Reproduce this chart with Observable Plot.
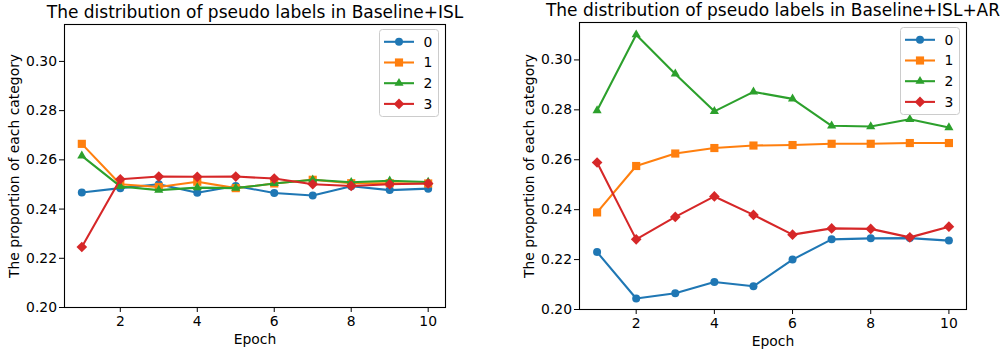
<!DOCTYPE html>
<html><head><meta charset="utf-8">
<script src="https://cdn.jsdelivr.net/npm/d3@7"></script>
<script src="https://cdn.jsdelivr.net/npm/@observablehq/plot@0.6"></script>
<style>
body{margin:0;background:#fff;font-family:"DejaVu Sans",sans-serif;}
#wrap{position:relative;width:1000px;height:349px;overflow:hidden;background:#fff;}
.panel{position:absolute;top:0;width:500px;height:349px;}
</style></head><body>
<div id="wrap"><div id="p0" class="panel" style="left:0"></div><div id="p1" class="panel" style="left:500px"></div></div>
<script>
// ---- data ----
const epochs = [1, 2, 3, 4, 5, 6, 7, 8, 9, 10];
const categories = ["0", "1", "2", "3"];
const xTicks = [2, 4, 6, 8, 10];
const yTicks = [0.20, 0.22, 0.24, 0.26, 0.28, 0.30];

const titles = ["The distribution of pseudo labels in Baseline+ISL", "The distribution of pseudo labels in Baseline+ISL+AR"];
const xLabel = "Epoch";
const yLabel = "The proportion of each category";

// Baseline+ISL
const isl0 = [0.2467, 0.2485, 0.2501, 0.2466, 0.2494, 0.2465, 0.2455, 0.2493, 0.2477, 0.2483];
const isl1 = [0.2665, 0.2501, 0.2490, 0.2511, 0.2485, 0.2504, 0.2519, 0.2505, 0.2505, 0.2504];
const isl2 = [0.2616, 0.2492, 0.2477, 0.2487, 0.2485, 0.2504, 0.2519, 0.2509, 0.2515, 0.2510];
const isl3 = [0.2246, 0.2521, 0.2532, 0.2531, 0.2532, 0.2524, 0.2501, 0.2494, 0.2501, 0.2504];

// Baseline+ISL+AR
const ar0 = [0.2230, 0.2044, 0.2065, 0.2110, 0.2093, 0.2200, 0.2281, 0.2285, 0.2286, 0.2276];
const ar1 = [0.2389, 0.2575, 0.2625, 0.2647, 0.2657, 0.2659, 0.2664, 0.2664, 0.2667, 0.2667];
const ar2 = [0.2797, 0.3101, 0.2944, 0.2794, 0.2872, 0.2844, 0.2736, 0.2733, 0.2762, 0.2729];
const ar3 = [0.2589, 0.2281, 0.2371, 0.2453, 0.2379, 0.2300, 0.2325, 0.2323, 0.2289, 0.2332];

// ---- styles ----
const colors = ["#1f77b4", "#ff7f0e", "#2ca02c", "#d62728"];
const symbols = ["circle", "square", "triangle", "diamond2"];
const d3symbols = [d3.symbolCircle, d3.symbolSquare, d3.symbolTriangle, d3.symbolDiamond2];
const radii = [4.0, 4.6, 3.4, 4.8];
const FONT = "DejaVu Sans";
const TICK_FS = 13.9, TITLE_FS = 17;

const panels = [
  {el: "p0", vals: [isl0, isl1, isl2, isl3], title: titles[0], mt: 24, mb: 42, ml: 64, mr: 55},
  {el: "p1", vals: [ar0, ar1, ar2, ar3], title: titles[1], mt: 22, mb: 40, ml: 79, mr: 34}
];

for (const p of panels) {
  const W = 500, H = 349;
  const seriesMarks = [];
  categories.forEach((c, i) => {
    const rows = epochs.map((e, j) => ({epoch: e, value: p.vals[i][j], cat: c}));
    seriesMarks.push(Plot.line(rows, {x: "epoch", y: "value", stroke: colors[i], strokeWidth: 2.08}));
    seriesMarks.push(Plot.dot(rows, {x: "epoch", y: "value", fill: colors[i], symbol: symbols[i], r: radii[i], stroke: "none"}));
  });
  const chart = Plot.plot({
    width: W, height: H,
    marginTop: p.mt, marginBottom: p.mb, marginLeft: p.ml, marginRight: p.mr,
    x: {domain: [0.55, 10.45]},
    y: {domain: [0.20, 0.315]},
    style: {fontFamily: FONT, fontSize: TICK_FS + "px", background: "transparent", overflow: "visible", color: "#000"},
    marks: [
      ...seriesMarks,
      Plot.frame({stroke: "#000", strokeWidth: 1.1}),
      Plot.axisX({ticks: xTicks, tickSize: 5, tickPadding: 4, label: null, tickFormat: d => String(d), fontSize: TICK_FS}),
      Plot.axisY({ticks: yTicks, tickSize: 5, tickPadding: 2.5, label: null, tickFormat: d3.format(".2f"), fontSize: TICK_FS}),
      Plot.text([p.title], {text: d => d, frameAnchor: "top", lineAnchor: "bottom", dy: -7, fontSize: TITLE_FS, fill: "#000"}),
      Plot.text([xLabel], {text: d => d, frameAnchor: "bottom", lineAnchor: "bottom", dy: 36.5, fontSize: TICK_FS, fill: "#000"}),
      Plot.text([yLabel], {text: d => d, frameAnchor: "left", textAnchor: "middle", rotate: -90, dx: -50, fontSize: TICK_FS, fill: "#000"})
    ]
  });
  const host = document.getElementById(p.el);
  host.append(chart);

  // legend overlay
  const fr = W - p.mr, ft = p.mt;
  const bw = 59, bh = 87;
  const bx = fr - 6.5 - bw, by = ft + 5.5;
  const svg = d3.create("svg").attr("width", W).attr("height", H)
    .style("position", "absolute").style("left", "0").style("top", "0").style("overflow", "visible")
    .attr("font-family", FONT).attr("font-size", TICK_FS);
  svg.append("rect").attr("x", bx).attr("y", by).attr("width", bw).attr("height", bh).attr("rx", 3)
    .attr("fill", "#fff").attr("fill-opacity", 0.8).attr("stroke", "#cccccc").attr("stroke-width", 1);
  categories.forEach((c, i) => {
    const cy = by + 12.3 + i * 20.7;
    svg.append("line").attr("x1", bx + 4.5).attr("x2", bx + 34.5).attr("y1", cy).attr("y2", cy)
      .attr("stroke", colors[i]).attr("stroke-width", 2.08);
    svg.append("path").attr("transform", `translate(${bx + 19.5},${cy})`)
      .attr("d", d3.symbol(d3symbols[i], Math.PI * radii[i] * radii[i])()).attr("fill", colors[i]);
    svg.append("text").attr("x", bx + 44).attr("y", cy).attr("dy", "0.35em").attr("fill", "#000").text(c);
  });
  host.append(svg.node());
}
</script>
</body></html>
